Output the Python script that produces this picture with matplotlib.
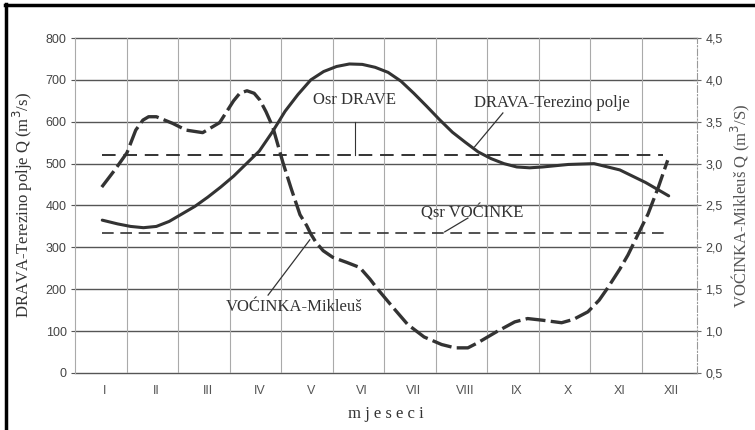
import numpy as np
import matplotlib
matplotlib.use("Agg")
import matplotlib.pyplot as plt
from matplotlib.lines import Line2D

# mjeseci
months = ["I", "II", "III", "IV", "V", "VI", "VII", "VIII", "IX", "X", "XI", "XII"]

# DRAVA-Terezino polje, Q (m3/s), lijeva os
drava_x = [0.95, 1.25, 1.5, 1.75, 2.0, 2.25, 2.5, 2.75, 3.0, 3.25, 3.5, 3.75,
           4.0, 4.25, 4.5, 4.75, 5.0, 5.25, 5.5, 5.75, 6.0, 6.25, 6.5, 6.75,
           7.0, 7.25, 7.5, 7.75, 8.0, 8.25, 8.5, 8.75, 9.0, 9.25, 9.5, 10.0,
           10.5, 11.0, 11.5, 11.95]
drava_q = [365, 356, 350, 347, 350, 362, 380, 398, 420, 444, 470, 500,
           530, 575, 625, 665, 700, 720, 732, 738, 737, 730, 718, 697,
           668, 637, 605, 575, 551, 528, 512, 500, 492, 490, 492, 498,
           500, 485, 455, 423]
drava_sr = 520

# VOCINKA-Mikleus, Q (m3/s), desna os
voc_x = [0.94, 1.2, 1.43, 1.6, 1.74, 1.85, 2.0, 2.32, 2.58, 2.9, 3.23, 3.5,
         3.62, 3.76, 3.9, 4.01, 4.13, 4.26, 4.46, 4.62, 4.79, 4.92, 5.0, 5.1,
         5.24, 5.43, 5.7, 5.95, 6.15, 6.3, 6.6, 6.88, 7.2, 7.54, 7.8, 8.05,
         8.24, 8.6, 8.96, 9.21, 9.5, 9.87, 10.1, 10.38, 10.6, 10.77, 11.0,
         11.16, 11.35, 11.55, 11.75, 11.93]
voc_q = [2.72, 2.93, 3.13, 3.40, 3.52, 3.56, 3.56, 3.48, 3.40, 3.37, 3.49, 3.75,
         3.84, 3.87, 3.84, 3.76, 3.62, 3.44, 3.01, 2.70, 2.39, 2.26, 2.16, 2.06,
         1.96, 1.88, 1.82, 1.76, 1.62, 1.50, 1.28, 1.08, 0.93, 0.84, 0.80, 0.80,
         0.86, 0.99, 1.11, 1.15, 1.13, 1.10, 1.14, 1.23, 1.37, 1.52, 1.74,
         1.91, 2.15, 2.40, 2.72, 3.04]
voc_sr = 2.17

left_ticks = list(range(0, 801, 100))
right_ticks = [0.5, 1.0, 1.5, 2.0, 2.5, 3.0, 3.5, 4.0, 4.5]

serif = "Liberation Serif"
sans = "Liberation Sans"
ink = "#333333"

fig = plt.figure(figsize=(7.55, 4.3), dpi=100)
ax = fig.add_axes([0.0993, 0.1326, 0.8239, 0.779])
ax2 = ax.twinx()

ax.set_xlim(0.42, 12.5)
ax.set_ylim(0, 800)
ax2.set_ylim(0.5, 4.5)

# mreza
for v in left_ticks:
    ax.axhline(v, color="#555555", lw=1.0, zorder=1, clip_on=False)
for k in range(1, 12):
    ax.axvline(k + 0.43, color="#aaaaaa", lw=0.8, zorder=1)

for s in ["top", "bottom"]:
    ax.spines[s].set_visible(False)
    ax2.spines[s].set_visible(False)
ax.spines["left"].set_color("#aaaaaa")
ax.spines["right"].set_visible(False)
ax2.spines["left"].set_visible(False)
ax2.spines["right"].set_color("#999999")
ax2.spines["right"].set_linestyle((0, (6, 2, 1, 2)))
ax2.spines["right"].set_linewidth(0.8)

ax.set_xticks(range(1, 13))
ax.set_xticklabels(months, family=sans, fontsize=9, color="#555555")
ax.tick_params(axis="x", length=0, pad=9)
ax.set_yticks(left_ticks)
ax.set_yticklabels([str(v) for v in left_ticks], family=sans, fontsize=9, color="#444444")
ax.tick_params(axis="y", length=3, color="#555555", pad=3)
ax2.set_yticks(right_ticks)
ax2.set_yticklabels([("%.1f" % v).replace(".", ",") for v in right_ticks],
                    family=sans, fontsize=9, color="#444444")
ax2.tick_params(axis="y", direction="inout", length=6, color="#666666", pad=3)

# krivulje
ax.plot(drava_x, drava_q, color=ink, lw=2.2, solid_joinstyle="round",
        solid_capstyle="round", zorder=4)
ax.plot([0.94, 11.83], [drava_sr, drava_sr], color=ink, lw=1.4,
        dashes=(7, 4), zorder=3)
ax2.plot(voc_x, voc_q, color=ink, lw=2.4, dashes=(6, 1.6), zorder=4)
ax2.plot([0.94, 11.87], [voc_sr, voc_sr], color=ink, lw=1.2,
         dashes=(7, 4), zorder=3)

# natpisi i pokazivaci
txt = dict(family=serif, fontsize=12, color=ink, ha="center", va="center", zorder=5)
ax.text(5.85, 652, "Osr DRAVE", **txt)
ax.plot([5.85, 5.85], [599, 521], color=ink, lw=0.8, zorder=5)
ax.text(9.68, 645, "DRAVA-Terezino polje", **txt)
ax.plot([8.73, 8.18], [621, 540], color=ink, lw=0.9, zorder=5)
ax.text(8.13, 382, "Qsr VOĆINKE", **txt)
ax.plot([8.05, 7.60], [370, 337], color=ink, lw=0.9, zorder=5)
ax.text(4.67, 158, "VOĆINKA-Mikleuš", **txt)
ax.plot([4.17, 4.98], [186, 318], color=ink, lw=0.9, zorder=5)

ax.set_xlabel("m j e s e c i", family=serif, fontsize=12, color=ink, labelpad=6)
ax.set_ylabel("DRAVA-Terezino polje Q (m$^3$/s)", family=serif, fontsize=12,
              color=ink, labelpad=8)
ax2.set_ylabel("VOĆINKA-Mikleuš Q (m$^3$/S)", family=serif, fontsize=12,
               color="#555555", rotation=90, labelpad=4)

# okvir
fig.add_artist(Line2D([0.008, 0.008], [0, 0.99], color="black", lw=2.5))
fig.add_artist(Line2D([0.006, 1.0], [0.988, 0.988], color="black", lw=2.5))

fig.savefig("out.png", dpi=100)
